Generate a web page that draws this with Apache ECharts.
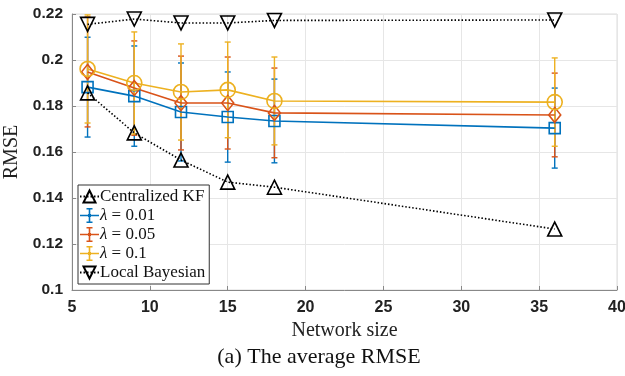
<!DOCTYPE html>
<html><head><meta charset="utf-8">
<script src="https://cdn.jsdelivr.net/npm/echarts@6/dist/echarts.min.js"></script>
<style>html,body{margin:0;padding:0;background:#fff}#c{width:625px;height:376px}</style>
</head><body><div id="c"></div>
<script>
const sizes = [6, 9, 12, 15, 18, 36];
const kf = [0.1857, 0.1683, 0.1565, 0.1469, 0.1447, 0.1265];
const localBayes = [0.2155, 0.2178, 0.2161, 0.2161, 0.2172, 0.2174];
const lam001 = [0.1882, 0.1843, 0.1774, 0.1752, 0.1735, 0.1704];
const lam005 = [0.1948, 0.1878, 0.1813, 0.1813, 0.1770, 0.1761];
const lam01 = [0.1961, 0.1900, 0.1861, 0.1870, 0.1822, 0.1817];
const err001 = [0.0217, 0.0218, 0.0213, 0.0196, 0.0182, 0.0174];
const err005 = [0.0239, 0.0205, 0.0204, 0.0200, 0.0195, 0.0182];
const err01 = [0.0235, 0.0222, 0.0209, 0.0208, 0.0191, 0.0192];
const names = ['Centralized KF', 'λ = 0.01', 'λ = 0.05', 'λ = 0.1', 'Local Bayesian'];

const C1 = '#0072BD', C2 = '#D95319', C3 = '#EDB120';
const serif = '"Liberation Serif", "DejaVu Serif", serif';
const sans = '"Liberation Sans", Arial, sans-serif';
const HOLLOW = 'rgba(255,255,255,0)';

function pairs(ys) { return sizes.map((x, i) => [x, ys[i]]); }
function errData(ys, es) { return sizes.map((x, i) => [x, ys[i] - es[i], ys[i] + es[i]]); }
function errSeries(name, ys, es, color) {
  return {
    name: name, type: 'custom', z: 2,
    itemStyle: { color: color, opacity: 1 },
    data: errData(ys, es),
    encode: { x: 0, y: [1, 2] },
    renderItem: function (params, api) {
      const lo = api.coord([api.value(0), api.value(1)]);
      const hi = api.coord([api.value(0), api.value(2)]);
      const w = 3;
      const st = { stroke: color, lineWidth: 1.4 };
      return { type: 'group', children: [
        { type: 'line', shape: { x1: lo[0], y1: lo[1], x2: hi[0], y2: hi[1] }, style: st },
        { type: 'line', shape: { x1: lo[0] - w, y1: lo[1], x2: lo[0] + w, y2: lo[1] }, style: st },
        { type: 'line', shape: { x1: hi[0] - w, y1: hi[1], x2: hi[0] + w, y2: hi[1] }, style: st }
      ]};
    }
  };
}
function lineSeries(name, ys, color, symbol, size, extra) {
  return Object.assign({
    name: name, type: 'line', z: 3, data: pairs(ys),
    symbol: symbol, symbolSize: size, showSymbol: true,
    lineStyle: { color: color, width: 1.6 },
    itemStyle: { color: HOLLOW, borderColor: color, borderWidth: 1.6 },
    emphasis: { disabled: true }
  }, extra || {});
}
const ebIcon = 'path://M0,6.7h19v1.6h-19z M8.7,0h1.6v15h-1.6z M6.5,0h6v1.6h-6z M6.5,13.4h6v1.6h-6z M8,6h3v3h-3z';

const chart = echarts.init(document.getElementById('c'), null, { renderer: 'canvas' });
chart.setOption({
  animation: false,
  backgroundColor: '#fff',
  grid: { left: 72, right: 8, top: 14, bottom: 86, show: true, borderColor: '#dcdcdc', borderWidth: 1,
    outerBoundsMode: 'none', containLabel: false },
  xAxis: {
    type: 'value', min: 5, max: 40, interval: 5,
    name: 'Network size', nameLocation: 'middle', nameGap: 29,
    nameTextStyle: { fontFamily: serif, fontSize: 20, color: '#222' },
    axisLine: { show: true, lineStyle: { color: '#888', width: 1 } },
    axisTick: { show: true, inside: true, length: 4, lineStyle: { color: '#888' } },
    axisLabel: { fontFamily: sans, fontWeight: 'bold', fontSize: 16, color: '#222', margin: 10 },
    splitLine: { show: true, lineStyle: { color: '#e6e6e6', width: 1 } }
  },
  yAxis: {
    type: 'value', min: 0.1, max: 0.22, interval: 0.02,
    name: 'RMSE', nameLocation: 'middle', nameGap: 44, nameRotate: 90,
    nameTextStyle: { fontFamily: serif, fontSize: 20, color: '#222' },
    axisLine: { show: true, lineStyle: { color: '#888', width: 1 } },
    axisTick: { show: true, inside: true, length: 4, lineStyle: { color: '#888' } },
    axisLabel: { fontFamily: sans, fontWeight: 'bold', fontSize: 15.5, color: '#222', margin: 9,
      formatter: v => String(+v.toFixed(2)) },
    splitLine: { show: true, lineStyle: { color: '#e6e6e6', width: 1 } }
  },
  legend: {
    orient: 'vertical', left: 78, top: 185,
    backgroundColor: '#fff', borderColor: '#333', borderWidth: 1, borderRadius: 0,
    padding: [3, 4, 3, 1], itemGap: 2, itemWidth: 19, itemHeight: 15,
    selectedMode: false,
    textStyle: { fontFamily: serif, fontSize: 17, color: '#111', padding: [0, 0, 0, -4],
      rich: { i: { fontFamily: serif, fontSize: 17, fontStyle: 'italic', color: '#111' } } },
    formatter: n => n.charAt(0) === 'λ' ? '{i|λ}' + n.slice(1) : n,
    data: [
      { name: names[0] },
      { name: names[1], icon: ebIcon, itemStyle: { color: C1, opacity: 1 } },
      { name: names[2], icon: ebIcon, itemStyle: { color: C2, opacity: 1 } },
      { name: names[3], icon: ebIcon, itemStyle: { color: C3, opacity: 1 } },
      { name: names[4] }
    ]
  },
  graphic: [{
    type: 'text', x: 319, y: 357,
    style: { text: '(a) The average RMSE', font: '22px ' + serif, fill: '#111',
      textAlign: 'center', textVerticalAlign: 'middle' }
  }],
  series: [
    errSeries(names[1], lam001, err001, C1),
    errSeries(names[2], lam005, err005, C2),
    errSeries(names[3], lam01, err01, C3),
    lineSeries('l001', lam001, C1, 'rect', 11),
    lineSeries('l005', lam005, C2, 'diamond', [12, 15]),
    lineSeries('l01', lam01, C3, 'circle', 15),
    lineSeries(names[0], kf, '#000', 'triangle', 14, {
      lineStyle: { color: '#000', width: 1.6, type: [1.5, 2] }, z: 4 }),
    lineSeries(names[4], localBayes, '#000', 'triangle', 14, {
      symbolRotate: 180, lineStyle: { color: '#000', width: 1.6, type: [1.5, 2] }, z: 4 })
  ]
});
</script></body></html>
